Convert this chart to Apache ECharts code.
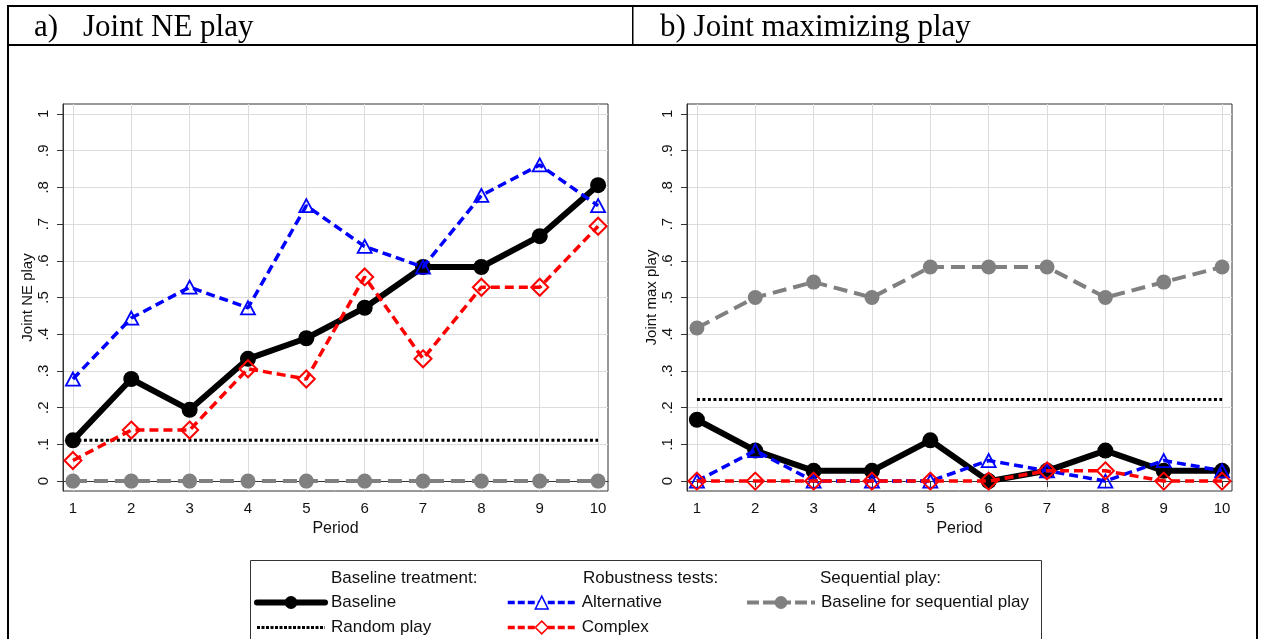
<!DOCTYPE html>
<html><head><meta charset="utf-8">
<script src="https://cdn.jsdelivr.net/npm/echarts@6/dist/echarts.min.js"></script>
<style>html,body{margin:0;padding:0;background:#fff}#c{width:1264px;height:639px}</style>
</head><body><div id="c"></div><script>
// ---------- data ----------
const periods = [1, 2, 3, 4, 5, 6, 7, 8, 9, 10];
const yTickValues = [0, 0.1, 0.2, 0.3, 0.4, 0.5, 0.6, 0.7, 0.8, 0.9, 1];
const yTickLabels = ['0', '.1', '.2', '.3', '.4', '.5', '.6', '.7', '.8', '.9', '1'];
const panelLabels = ['a)', 'Joint NE play', 'b) Joint maximizing play'];
const yAxisNames = ['Joint NE play', 'Joint max play'];
const xAxisName = 'Period';
const seriesNames = ['Baseline', 'Random play', 'Alternative', 'Complex', 'Baseline for sequential play'];
const legendHeaders = ['Baseline treatment:', 'Robustness tests:', 'Sequential play:'];

// panel a) Joint NE play
const neBaseline    = [0.111, 0.278, 0.194, 0.333, 0.389, 0.472, 0.583, 0.583, 0.667, 0.806];
const neRandom      = [0.111, 0.111, 0.111, 0.111, 0.111, 0.111, 0.111, 0.111, 0.111, 0.111];
const neAlternative = [0.278, 0.444, 0.528, 0.472, 0.750, 0.639, 0.583, 0.778, 0.861, 0.750];
const neComplex     = [0.056, 0.139, 0.139, 0.306, 0.278, 0.556, 0.333, 0.528, 0.528, 0.694];
const neSequential  = [0, 0, 0, 0, 0, 0, 0, 0, 0, 0];

// panel b) Joint maximizing play
const maxBaseline    = [0.167, 0.083, 0.028, 0.028, 0.111, 0.000, 0.028, 0.083, 0.028, 0.028];
const maxRandom      = [0.222, 0.222, 0.222, 0.222, 0.222, 0.222, 0.222, 0.222, 0.222, 0.222];
const maxAlternative = [0.000, 0.083, 0.000, 0.000, 0.000, 0.056, 0.028, 0.000, 0.056, 0.028];
const maxComplex     = [0.000, 0.000, 0.000, 0.000, 0.000, 0.000, 0.028, 0.028, 0.000, 0.000];
const maxSequential  = [0.417, 0.500, 0.542, 0.500, 0.583, 0.583, 0.583, 0.500, 0.542, 0.583];

// ---------- styles ----------
const SANS = '"Liberation Sans", Arial, sans-serif';
const SERIF = '"Liberation Serif", "Times New Roman", serif';
const styles = {
  'Baseline': { symbol: 'circle', symbolSize: 16, lineStyle: { color: '#000', width: 6 }, itemStyle: { color: '#000' } },
  'Random play': { symbol: 'none', lineStyle: { color: '#000', width: 3, type: [3, 2.5] }, itemStyle: { color: '#000' } },
  'Alternative': { symbol: 'triangle', symbolSize: [14, 13], lineStyle: { color: '#0000ff', width: 3.5, type: [9, 5] },
                   itemStyle: { color: 'rgba(255,255,255,0)', borderColor: '#0000ff', borderWidth: 1.8 } },
  'Complex': { symbol: 'diamond', symbolSize: 17, lineStyle: { color: '#ff0000', width: 3.5, type: [9, 5] },
               itemStyle: { color: 'rgba(255,255,255,0)', borderColor: '#ff0000', borderWidth: 2 } },
  'Baseline for sequential play': { symbol: 'circle', symbolSize: 15, lineStyle: { color: '#808080', width: 4, type: [14, 7] },
               itemStyle: { color: '#808080' } }
};
// legend icon styles
const legendIconStyles = {
  'Baseline': { lineStyle: { color: '#000', width: 6, type: 'solid', cap: 'round' }, itemStyle: { color: '#000', borderWidth: 0 } },
  'Random play': { lineStyle: { color: '#000', width: 3, type: [3, 1.5] }, itemStyle: { color: 'rgba(0,0,0,0)', borderWidth: 0, opacity: 0 } },
  'Alternative': { lineStyle: { color: '#0000ff', width: 3.5, type: [7, 3] },
                   itemStyle: { color: '#fff', borderColor: '#0000ff', borderWidth: 1.5 } },
  'Complex': { lineStyle: { color: '#ff0000', width: 3.5, type: [7, 3] },
               itemStyle: { color: '#fff', borderColor: '#ff0000', borderWidth: 1.5 } },
  'Baseline for sequential play': { lineStyle: { color: '#808080', width: 4, type: [12, 4] },
               itemStyle: { color: '#808080', borderWidth: 0 } }
};
const panelData = [
  [neBaseline, neRandom, neAlternative, neComplex, neSequential],
  [maxBaseline, maxRandom, maxAlternative, maxComplex, maxSequential]
];

const gridLeft = [63, 687];
const grids = gridLeft.map(l => ({ left: l, top: 104, width: 545, height: 387, show: true,
  borderColor: '#333', borderWidth: 1, backgroundColor: 'transparent' }));

const xAxes = [0, 1].map(g => ({
  gridIndex: g, type: 'value', min: 0.83, max: 10.17,
  name: xAxisName, nameLocation: 'middle', nameGap: 27,
  nameTextStyle: { fontFamily: SANS, fontSize: 16, color: '#111' },
  axisLine: { show: true, lineStyle: { color: '#333', width: 1 } },
  axisTick: { show: true, length: 6, customValues: periods, lineStyle: { color: '#333' } },
  axisLabel: { customValues: periods, margin: 10, fontFamily: SANS, fontSize: 15, color: '#111' },
  splitLine: { show: true, lineStyle: { color: '#dcdcdc', width: 1 } }
}));
const yAxes = [0, 1].map(g => ({
  gridIndex: g, type: 'value', min: -0.027, max: 1.027,
  name: yAxisNames[g], nameLocation: 'middle', nameGap: 21,
  nameTextStyle: { fontFamily: SANS, fontSize: 15, color: '#111' },
  axisLine: { show: true, lineStyle: { color: '#333', width: 1 } },
  axisTick: { show: true, length: 6, customValues: yTickValues, lineStyle: { color: '#333' } },
  axisLabel: { customValues: yTickValues, rotate: 90, margin: 12, fontFamily: SANS, fontSize: 15, color: '#111',
    formatter: v => { const i = yTickValues.findIndex(t => Math.abs(t - v) < 1e-6); return i >= 0 ? yTickLabels[i] : ''; } },
  splitLine: { show: true, lineStyle: { color: '#dcdcdc', width: 1 } }
}));

const series = [];
[0, 1].forEach(g => {
  seriesNames.forEach((nm, k) => {
    const st = styles[nm];
    series.push(Object.assign({
      type: 'line', name: nm, xAxisIndex: g, yAxisIndex: g,
      data: periods.map((p, i) => [p, panelData[g][k][i]]),
      showSymbol: st.symbol !== 'none', animation: false, silent: true,
      emphasis: { disabled: true }, z: 2 + k
    }, JSON.parse(JSON.stringify(st))));
  });
});

const legendCfg = [
  { left: 254, names: ['Baseline', 'Random play'] },
  { left: 506, names: ['Alternative', 'Complex'] },
  { left: 745, names: ['Baseline for sequential play'] }
];
const legends = legendCfg.map(c => ({
  left: c.left, top: 594, orient: 'vertical', padding: 0, itemWidth: 68, itemHeight: 16, itemGap: 8,
  selectedMode: false, height: 45,
  textStyle: { fontFamily: SANS, fontSize: 17, color: '#111', lineHeight: 16, padding: [0, 0, 0, 1] },
  data: c.names.map(n => Object.assign({ name: n }, JSON.parse(JSON.stringify(legendIconStyles[n]))))
}));

const headerX = [331, 583, 820];
const graphics = [
  // table structure of the figure
  { type: 'rect', shape: { x: 7, y: 5, width: 1250, height: 2 }, style: { fill: '#000' } },
  { type: 'rect', shape: { x: 7, y: 44, width: 1250, height: 2 }, style: { fill: '#000' } },
  { type: 'rect', shape: { x: 7, y: 5, width: 2, height: 640 }, style: { fill: '#000' } },
  { type: 'rect', shape: { x: 1256, y: 5, width: 2, height: 640 }, style: { fill: '#000' } },
  { type: 'rect', shape: { x: 632, y: 5, width: 1.5, height: 40 }, style: { fill: '#000' } },
  { type: 'text', style: { text: panelLabels[0], x: 34, y: 28, verticalAlign: 'middle', font: '31px ' + SERIF, fill: '#000' } },
  { type: 'text', style: { text: panelLabels[1], x: 83, y: 28, verticalAlign: 'middle', font: '31px ' + SERIF, fill: '#000' } },
  { type: 'text', style: { text: panelLabels[2], x: 660, y: 28, verticalAlign: 'middle', font: '31px ' + SERIF, fill: '#000' } },
  // legend box
  { type: 'rect', shape: { x: 250.5, y: 560.5, width: 791, height: 100 }, style: { fill: 'none', stroke: '#333', lineWidth: 1 } }
].concat(legendHeaders.map((t, i) => ({ type: 'text',
  style: { text: t, x: headerX[i], y: 578, verticalAlign: 'middle', font: '17px ' + SANS, fill: '#111' } })));

const chart = echarts.init(document.getElementById('c'), null, { renderer: 'canvas' });
chart.setOption({
  animation: false, backgroundColor: '#fff',
  grid: grids, xAxis: xAxes, yAxis: yAxes, series: series,
  legend: legends, graphic: graphics
});
</script></body></html>
